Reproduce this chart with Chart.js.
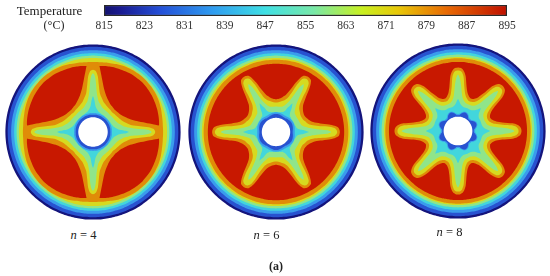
<!DOCTYPE html>
<html>
<head>
<meta charset="utf-8">
<script src="https://cdn.jsdelivr.net/npm/chart.js@4"></script>
<style>
html, body { margin: 0; padding: 0; background: #fff; overflow: hidden; }
#page { position: relative; width: 550px; height: 276px; overflow: hidden; font-family: "Liberation Serif", serif; color: #222; }
#page canvas { position: absolute; }
.lbl { position: absolute; white-space: nowrap; line-height: 1; transform: translate(-50%, -50%); }
</style>
</head>
<body>
<div id="page">
  <canvas id="barChart" style="left:0;top:0"></canvas>
  <canvas id="disk4" style="left:0.7px;top:39.5px"></canvas>
  <canvas id="disk6" style="left:183.7px;top:39.6px"></canvas>
  <canvas id="disk8" style="left:366px;top:39px"></canvas>
  <span class="lbl" style="left:49.5px;top:9.5px;font-size:13px">Temperature</span>
  <span class="lbl" style="left:54px;top:25px;font-size:12px">(°C)</span>
  <span class="lbl" style="left:83.5px;top:235px;font-size:12.5px"><i>n</i> = 4</span>
  <span class="lbl" style="left:266.5px;top:235px;font-size:12.5px"><i>n</i> = 6</span>
  <span class="lbl" style="left:449.5px;top:232px;font-size:12.5px"><i>n</i> = 8</span>
  <span class="lbl" style="left:276px;top:265.5px;font-size:12px"><b>(a)</b></span>
</div>
<script>
// temperature scale
const tempMin = 815, tempMax = 895, tempStep = 8;
const barStops = [0, 0.04, 0.14, 0.27, 0.40, 0.52, 0.64, 0.73, 0.85, 1];
const barColors = ['#12126e', '#1a1a90', '#2450d8', '#2f9cf0', '#3fe0e4', '#78e8a8', '#c8f020', '#e8c808', '#e86a04', '#c01000'];

// band colours, outside to inside
const rim = '#14147c', blue = '#2852d0', sky = '#3a9cec', cyan = '#42d6dc', green = '#8fe58a', yellow = '#d6da20', orange = '#e08c08', red = '#c81800';
const ringColors = [rim, blue, sky, cyan, green, yellow];
// outer circular bands, 100 = disk radius
const ringRadii = [100, 97.4, 93.4, 90, 87.2, 84.6];

// n = 4, angle measured from the arm axis
const angles4 = [0, 1.5, 3, 5, 7, 10, 14, 19, 25, 32, 38, 45];
const ring4 = [80, 80, 80, 80, 80.2, 80.5, 81, 82, 83, 83.8, 84.2, 84.5];
const red4 = [75.5, 75.5, 75.5, 75.5, 76, 76.5, 77, 77.6, 78.2, 79, 79.4, 79.8];
const orange4 = [79.8, 79.8, 79.6, 77.5, 70, 60.5, 51.5, 45, 40.5, 37.4, 36.3, 35.5];
const yellow4 = [71, 70.5, 69, 63.7, 54.2, 45, 40.5, 36.6, 34.4, 32.8, 32.1, 31.3];
const green4 = [67, 65, 59, 47, 41, 36, 33.2, 30.5, 29, 28.2, 27.9, 27.5];
const cyan4 = [40.8, 38.5, 35.1, 30.5, 28.2, 26.3, 24.4, 23.4, 22.8, 22.4, 22.2, 22.2];
const sky4 = [21.6, 21.6, 21.6, 21.6, 21.8, 21.8, 21.8, 21.8, 21.8, 21.8, 21.8, 21.8];
const blue4 = [19.8, 19.8, 19.8, 19.8, 19.8, 20, 20, 20, 20, 20, 20, 20];
const hole4 = 16.8;

// n = 6
const angles6 = [0, 2, 4, 6, 8, 11, 15, 20, 25, 30];
const ring6 = [82.6, 82.6, 82.6, 82.6, 82.6, 82.6, 82.6, 82.6, 82.6, 82.6];
const red6 = [77.8, 77.8, 77.8, 77.8, 77.8, 77.8, 77.8, 77.8, 77.8, 77.8];
const orange6 = [72.9, 72.5, 71.4, 67.2, 61.1, 51.5, 43.9, 40.1, 38.2, 37.4];
const yellow6 = [69.8, 69.1, 66.8, 59.2, 48.9, 41.2, 37.4, 35.5, 34, 33.6];
const green6 = [63, 58.4, 46.9, 40.1, 36.3, 32.8, 30.2, 29.4, 29, 29];
const cyan6 = [37.4, 34.4, 31.3, 27.5, 25.6, 24, 23.7, 22.9, 22.9, 22.9];
const sky6 = [21.4, 21.4, 21.4, 21.5, 21.6, 21.8, 22, 22.2, 22.4, 22.5];
const blue6 = [19, 19, 19.1, 19.2, 19.4, 19.6, 19.9, 20.2, 20.5, 20.6];
const hole6 = 16.2;

// n = 8
const angles8 = [0, 2, 4, 6, 8, 11, 14, 18, 22.5];
const ring8 = [83, 83, 83, 83, 83, 83, 83, 83, 83];
const red8 = [78.8, 78.8, 78.8, 78.8, 78.8, 78.8, 78.8, 78.8, 78.8];
const orange8 = [72.5, 72.1, 71, 67.9, 63, 51.5, 45, 41.2, 39.7];
const yellow8 = [69.1, 68.7, 66.8, 61.8, 51.5, 43.1, 39.3, 37, 36.3];
const green8 = [64.5, 60.3, 51.5, 42.7, 38.2, 35.1, 33.6, 32.8, 32.4];
const cyan8 = [36.6, 34.5, 32, 30.5, 29.5, 28.5, 28, 28, 28];
const sky8 = [19.5, 19.5, 19.6, 20, 20.6, 21.6, 22.4, 23.2, 23.5];
const blue8 = [18, 18, 18.1, 18.5, 19.2, 20.3, 21.2, 22.2, 22.5];
const hole8 = 16.4;

function polar(deg, r) {
    const a = deg * Math.PI / 180;
    return { x: r * Math.cos(a), y: r * Math.sin(a) };
}

function circle(r) {
    const pts = [];
    for (let d = 0; d <= 360; d += 4) pts.push(polar(d, r));
    return pts;
}

// repeat one half arm around the disk
function star(n, angles, radii) {
    const pts = [];
    const period = 360 / n;
    for (let k = 0; k < n; k++) {
        const base = k * period;
        for (let i = angles.length - 1; i > 0; i--) pts.push(polar(base - angles[i], radii[i]));
        for (let i = 0; i < angles.length - 1; i++) pts.push(polar(base + angles[i], radii[i]));
    }
    pts.push(pts[0]);
    return pts;
}

function contour(points, color) {
    return { data: points, backgroundColor: color, borderWidth: 0, pointRadius: 0, showLine: true, fill: 'shape', tension: 0.25 };
}

function drawDisk(id, n, angles, bands, hole) {
    const sets = ringRadii.map((r, i) => contour(circle(r), ringColors[i]));
    bands.forEach(b => sets.push(contour(star(n, angles, b[0]), b[1])));
    sets.push(contour(circle(hole), '#ffffff'));
    sets.reverse(); // first dataset is painted last
    new Chart(document.getElementById(id), {
        type: 'scatter',
        data: { datasets: sets },
        options: {
            responsive: false, animation: false, events: [],
            layout: { padding: 0 },
            plugins: { legend: { display: false }, tooltip: { enabled: false } },
            scales: {
                x: { display: false, min: -105, max: 105 },
                y: { display: false, min: -105, max: 105 }
            }
        }
    });
}

document.getElementById('disk4').width = 184; document.getElementById('disk4').height = 184;
document.getElementById('disk6').width = 184; document.getElementById('disk6').height = 184;
document.getElementById('disk8').width = 184; document.getElementById('disk8').height = 184;
document.getElementById('barChart').width = 550; document.getElementById('barChart').height = 36;

drawDisk('disk4', 4, angles4, [[ring4, orange], [red4, red], [orange4, orange], [yellow4, yellow], [green4, green], [cyan4, cyan], [sky4, sky], [blue4, blue]], hole4);
drawDisk('disk6', 6, angles6, [[ring6, orange], [red6, red], [orange6, orange], [yellow6, yellow], [green6, green], [cyan6, cyan], [sky6, sky], [blue6, blue]], hole6);
drawDisk('disk8', 8, angles8, [[ring8, orange], [red8, red], [orange8, orange], [yellow8, yellow], [green8, green], [cyan8, cyan], [sky8, sky], [blue8, blue]], hole8);

// colour bar
new Chart(document.getElementById('barChart'), {
    type: 'bar',
    data: {
        labels: ['T'],
        datasets: [{
            data: [[tempMin, tempMax]],
            categoryPercentage: 1, barPercentage: 1,
            borderColor: '#2a2a2a', borderWidth: 1.5, borderSkipped: false,
            backgroundColor: c => {
                const area = c.chart.chartArea;
                if (!area) return barColors[0];
                const g = c.chart.ctx.createLinearGradient(area.left, 0, area.right, 0);
                barStops.forEach((s, i) => g.addColorStop(s, barColors[i]));
                return g;
            }
        }]
    },
    options: {
        indexAxis: 'y', responsive: false, animation: false, events: [],
        layout: { padding: { left: 104, right: 43, top: 5, bottom: 0 } },
        plugins: { legend: { display: false }, tooltip: { enabled: false } },
        scales: {
            x: {
                min: tempMin, max: tempMax,
                grid: { display: false, drawTicks: false }, border: { display: false },
                ticks: { stepSize: tempStep, maxRotation: 0, autoSkip: false, padding: 3, color: '#333', font: { family: 'Liberation Serif', size: 11.5 } },
                afterFit: s => { s.height = 20; }
            },
            y: { display: false }
        }
    }
});
</script>
</body>
</html>
